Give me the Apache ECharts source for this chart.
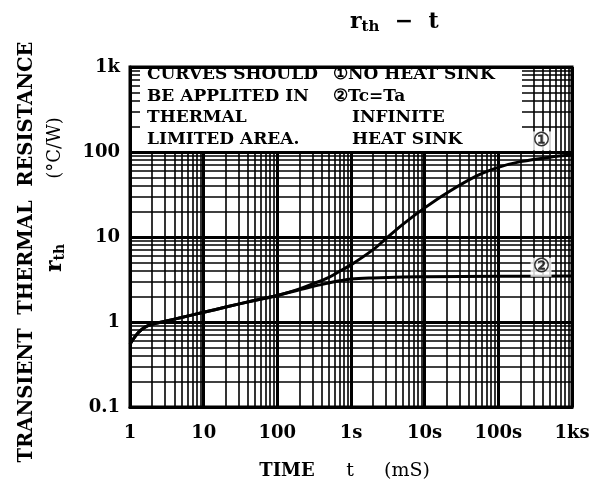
<!DOCTYPE html>
<html>
<head>
<meta charset="utf-8">
<script src="https://cdn.jsdelivr.net/npm/echarts@6/dist/echarts.min.js"></script>
<style>html,body{margin:0;padding:0;background:#fff}#c{width:605px;height:493px}</style>
</head>
<body>
<div id="c"></div>
<script>
// ---- data ----
const timeMs1 = [1, 1.3, 1.6, 2, 3, 5, 10, 20, 50, 100, 200, 300, 500, 700, 1000, 2000, 3000, 5000, 10000, 20000, 50000, 100000, 200000, 500000, 1000000];
const rth1    = [0.55, 0.75, 0.87, 0.94, 1.02, 1.13, 1.3, 1.5, 1.8, 2.05, 2.45, 2.8, 3.35, 3.95, 4.7, 7.1, 9.6, 14, 22, 33, 52, 66, 77, 87, 92];
const timeMs2 = [1, 1.3, 1.6, 2, 3, 5, 10, 20, 50, 100, 200, 300, 500, 700, 1000, 2000, 5000, 10000, 100000, 1000000];
const rth2    = [0.55, 0.75, 0.87, 0.94, 1.02, 1.13, 1.3, 1.5, 1.8, 2.05, 2.4, 2.62, 2.88, 3.05, 3.2, 3.3, 3.38, 3.4, 3.45, 3.48];
const xTickValues = [1, 10, 100, 1000, 10000, 100000, 1000000];
const xTickLabels = ['1', '10', '100', '1s', '10s', '100s', '1ks'];
const yTickValues = [0.1, 1, 10, 100, 1000];
const yTickLabels = ['0.1', '1', '10', '100', '1k'];
const minorMult = [2, 3, 4, 5, 6, 7, 8, 9];
const xDecades = [1, 10, 100, 1000, 10000, 100000];
const yDecades = [0.1, 1, 10, 100];
const curveTags = [{t: 380000, r: 135, text: '①'}, {t: 380000, r: 4.4, text: '②'}];

const SERIF = '"DejaVu Serif", "Liberation Serif", serif';
const BOX_FONT = 'bold 17px ' + SERIF;

function lookup(vals, labels, v) {
  for (let i = 0; i < vals.length; i++) {
    if (Math.abs(Math.log10(v) - Math.log10(vals[i])) < 1e-6) return labels[i];
  }
  return '';
}

const minorX = [];
xDecades.forEach(d => minorMult.forEach(m => minorX.push({xAxis: d * m})));
const minorY = [];
yDecades.forEach(d => minorMult.forEach(m => minorY.push({yAxis: +(d * m).toPrecision(6)})));

const chart = echarts.init(document.getElementById('c'));
const option = {
  animation: false,
  backgroundColor: '#fff',
  grid: {left: 130, top: 67, width: 442, height: 340, show: true, borderColor: '#000', borderWidth: 3, backgroundColor: 'transparent'},
  xAxis: {
    type: 'log', logBase: 10, min: 1, max: 1000000, interval: 1,
    axisLine: {show: true, lineStyle: {color: '#000', width: 3}},
    axisTick: {show: false},
    splitLine: {show: true, lineStyle: {color: '#000', width: 3}},
    axisLabel: {
      margin: 17, color: '#000', fontFamily: SERIF, fontSize: 18, fontWeight: 'bold',
      formatter: v => lookup(xTickValues, xTickLabels, v)
    }
  },
  yAxis: {
    type: 'log', logBase: 10, min: 0.1, max: 1000, interval: 1,
    axisLine: {show: true, lineStyle: {color: '#000', width: 3}},
    axisTick: {show: false},
    splitLine: {show: true, lineStyle: {color: '#000', width: 3}},
    axisLabel: {
      margin: 10, color: '#000', fontFamily: SERIF, fontSize: 18, fontWeight: 'bold',
      formatter: v => lookup(yTickValues, yTickLabels, v)
    }
  },
  series: [
    {
      type: 'line', data: [], silent: true, z: 1,
      markLine: {
        silent: true, symbol: 'none', animation: false,
        label: {show: false},
        lineStyle: {color: '#000', width: 1.6, type: 'solid'},
        data: minorX.concat(minorY)
      }
    },
    {
      type: 'line', name: 'no heat sink', smooth: 0.35, showSymbol: false, z: 3,
      lineStyle: {color: '#000', width: 3},
      data: timeMs1.map((t, i) => [t, rth1[i]])
    },
    {
      type: 'line', name: 'Tc=Ta', smooth: 0.35, showSymbol: false, z: 3,
      lineStyle: {color: '#000', width: 3},
      data: timeMs2.map((t, i) => [t, rth2[i]])
    },
    {
      type: 'scatter', symbolSize: 0, z: 8, silent: true,
      data: curveTags.map(c => ({value: [c.t, c.r], label: {show: true, position: 'inside', formatter: c.text}})),
      label: {color: '#000', fontSize: 19, fontFamily: SERIF, fontWeight: 'bold', backgroundColor: '#fff', padding: [0, 2]}
    }
  ],
  graphic: [
    {type: 'rect', z: 50, shape: {x: 140, y: 69, width: 382, height: 82}, style: {fill: '#fff'}},
    {type: 'text', z: 51, left: 147, top: 66, style: {text: 'CURVES SHOULD', font: BOX_FONT, fill: '#000'}},
    {type: 'text', z: 51, left: 147, top: 88, style: {text: 'BE APPLITED IN', font: BOX_FONT, fill: '#000'}},
    {type: 'text', z: 51, left: 147, top: 109, style: {text: 'THERMAL', font: BOX_FONT, fill: '#000'}},
    {type: 'text', z: 51, left: 147, top: 131, style: {text: 'LIMITED AREA.', font: BOX_FONT, fill: '#000'}},
    {type: 'text', z: 51, left: 333, top: 66, style: {text: '①NO HEAT SINK', font: BOX_FONT, fill: '#000'}},
    {type: 'text', z: 51, left: 333, top: 88, style: {text: '②Tc=Ta', font: BOX_FONT, fill: '#000'}},
    {type: 'text', z: 51, left: 352, top: 109, style: {text: 'INFINITE', font: BOX_FONT, fill: '#000'}},
    {type: 'text', z: 51, left: 352, top: 131, style: {text: 'HEAT SINK', font: BOX_FONT, fill: '#000'}},
    // title
    {type: 'text', z: 51, x: 350, y: 22, style: {
      text: '{r|r}{s|th}{m|  −  t}', verticalAlign: 'middle', fill: '#000',
      rich: {
        r: {font: 'bold 22px ' + SERIF, fill: '#000'},
        s: {font: 'bold 15px ' + SERIF, fill: '#000', padding: [10, 0, 0, 0]},
        m: {font: 'bold 22px ' + SERIF, fill: '#000'}
      }
    }},
    // x axis title
    {type: 'text', z: 51, x: 287, y: 471, style: {text: 'TIME', align: 'center', verticalAlign: 'middle', font: 'bold 18px ' + SERIF, fill: '#000'}},
    {type: 'text', z: 51, x: 350, y: 471, style: {text: 't', align: 'center', verticalAlign: 'middle', font: '19px ' + SERIF, fill: '#000'}},
    {type: 'text', z: 51, x: 407, y: 471, style: {text: '(mS)', align: 'center', verticalAlign: 'middle', font: '19px ' + SERIF, fill: '#000'}},
    // y axis titles
    {type: 'text', z: 51, x: 27, y: 252, rotation: Math.PI / 2, style: {
      text: 'TRANSIENT  THERMAL  RESISTANCE', align: 'center', verticalAlign: 'middle', font: 'bold 19.5px ' + SERIF, fill: '#000'
    }},
    {type: 'text', z: 51, x: 55, y: 148, rotation: Math.PI / 2, style: {
      text: '(°C/W)', align: 'center', verticalAlign: 'middle', font: '18px ' + SERIF, fill: '#000'
    }},
    {type: 'text', z: 51, x: 55, y: 258, rotation: Math.PI / 2, style: {
      text: '{r|r}{s|th}', align: 'center', verticalAlign: 'middle', fill: '#000',
      rich: {
        r: {font: 'bold 22px ' + SERIF, fill: '#000'},
        s: {font: 'bold 14px ' + SERIF, fill: '#000', padding: [10, 0, 0, 0]}
      }
    }}
  ]
};
chart.setOption(option);
</script>
</body>
</html>
